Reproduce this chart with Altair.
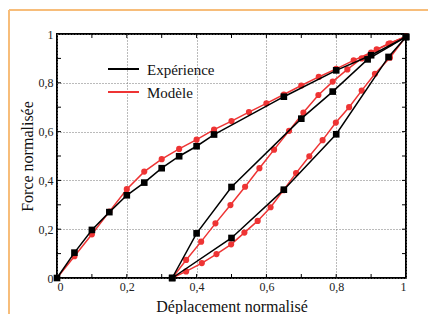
import altair as alt
import pandas as pd

# ---- data ----
exp_load_x = [0, 0.05, 0.10, 0.15, 0.20, 0.25, 0.30, 0.35, 0.40, 0.45, 0.65, 0.80, 0.90, 1.00]
exp_load_y = [0, 0.104, 0.197, 0.270, 0.339, 0.391, 0.450, 0.499, 0.540, 0.588, 0.743, 0.851, 0.913, 0.988]
exp_up_x = [0.33, 0.40, 0.50, 0.70, 0.79, 0.89, 1.00]
exp_up_y = [0, 0.183, 0.373, 0.653, 0.764, 0.896, 0.988]
exp_low_x = [0.33, 0.50, 0.65, 0.80, 0.95, 1.00]
exp_low_y = [0, 0.164, 0.362, 0.589, 0.906, 0.988]

mod_load_x = [0, 0.05, 0.10, 0.15, 0.20, 0.25, 0.30, 0.35, 0.40, 0.45, 0.50,
              0.55, 0.60, 0.65, 0.70, 0.75, 0.80, 0.85, 0.90, 0.95, 1.00]
mod_load_y = [0, 0.089, 0.179, 0.272, 0.364, 0.436, 0.487, 0.529, 0.567, 0.608, 0.643,
              0.680, 0.716, 0.752, 0.789, 0.824, 0.857, 0.892, 0.924, 0.960, 0.990]
mod_up_x = [0.33, 0.370, 0.413, 0.454, 0.497, 0.539, 0.580, 0.622, 0.665, 0.706, 0.749,
            0.790, 0.832, 0.873, 0.916, 0.955, 1.00]
mod_up_y = [0, 0.074, 0.149, 0.224, 0.299, 0.374, 0.450, 0.526, 0.603, 0.678, 0.750,
            0.805, 0.855, 0.900, 0.937, 0.962, 0.990]
mod_low_x = [0.33, 0.370, 0.415, 0.457, 0.499, 0.537, 0.575, 0.612, 0.649, 0.685, 0.723,
             0.761, 0.799, 0.837, 0.873, 0.911, 0.954, 1.00]
mod_low_y = [0, 0.027, 0.061, 0.098, 0.138, 0.186, 0.234, 0.290, 0.360, 0.430, 0.499,
             0.565, 0.637, 0.700, 0.768, 0.837, 0.903, 0.990]

legend_labels = ["Expérience", "Modèle"]
series_colors = ["#000000", "#ee3434"]
major_ticks = [0, 0.2, 0.4, 0.6, 0.8, 1]
minor_ticks = [0.1, 0.2, 0.3, 0.4, 0.5, 0.6, 0.7, 0.8, 0.9]
x_title = "Déplacement normalisé"
y_title = "Force normalisée"

# ---- build tables ----
rows = []
def add(series, curve, xs, ys):
    for i, (xv, yv) in enumerate(zip(xs, ys)):
        rows.append({"series": series, "curve": curve, "order": i, "x": xv, "y": yv})

add("Modèle", "m_load", mod_load_x, mod_load_y)
add("Modèle", "m_up", mod_up_x, mod_up_y)
add("Modèle", "m_low", mod_low_x, mod_low_y)
add("Expérience", "e_load", exp_load_x, exp_load_y)
add("Expérience", "e_up", exp_up_x, exp_up_y)
add("Expérience", "e_low", exp_low_x, exp_low_y)
df = pd.DataFrame(rows)
mod_df = df[df.series == "Modèle"]
exp_df = df[df.series == "Expérience"]

W, H = 349, 244
FONT = "'Liberation Serif', 'Times New Roman', Times, serif"
RED = series_colors[1]
BLACK = series_colors[0]
ORANGE = "#f7bd7a"

xs = alt.Scale(domain=[0, 1], nice=False, zero=False)
ys = alt.Scale(domain=[0, 1], nice=False, zero=False)
lab = "replace(format(datum.value, '~g'), '.', ',')"

x_axis = alt.Axis(values=major_ticks, title=x_title, grid=True, ticks=False, domain=False,
                  labelExpr=lab, labelPadding=3, titlePadding=6,
                  labelFont=FONT, titleFont=FONT)
y_axis = alt.Axis(values=major_ticks, title=y_title, grid=True, ticks=False, domain=False,
                  labelExpr=lab, labelPadding=4, titlePadding=3,
                  labelFont=FONT, titleFont=FONT)

X = alt.X("x:Q", scale=xs, axis=x_axis)
Y = alt.Y("y:Q", scale=ys, axis=y_axis)

lines_m = alt.Chart(mod_df).mark_line(color=RED, strokeWidth=1.5).encode(
    x=X, y=Y, detail="curve:N", order="order:Q")
pts_m = alt.Chart(mod_df).mark_point(shape="circle", filled=True, size=38, color=RED, opacity=1).encode(
    x="x:Q", y="y:Q")
lines_e = alt.Chart(exp_df).mark_line(color=BLACK, strokeWidth=1.5).encode(
    x="x:Q", y="y:Q", detail="curve:N", order="order:Q")
pts_e = alt.Chart(exp_df).mark_point(shape="square", filled=True, size=44, color=BLACK, opacity=1).encode(
    x="x:Q", y="y:Q")

# inward ticks on all four sides
tx = pd.DataFrame({"x": minor_ticks})
ty = pd.DataFrame({"y": minor_ticks})
TL = 4
t_bottom = alt.Chart(tx).mark_rule(color="black", strokeWidth=1).encode(
    x="x:Q", y=alt.value(H), y2=alt.value(H - TL))
t_top = alt.Chart(tx).mark_rule(color="black", strokeWidth=1).encode(
    x="x:Q", y=alt.value(0), y2=alt.value(TL))
t_left = alt.Chart(ty).mark_rule(color="black", strokeWidth=1).encode(
    y="y:Q", x=alt.value(0), x2=alt.value(TL))
t_right = alt.Chart(ty).mark_rule(color="black", strokeWidth=1).encode(
    y="y:Q", x=alt.value(W), x2=alt.value(W - TL))

# legend drawn by hand (line samples only, as in the reference)
legend_layers = []
for i, (name, col) in enumerate(zip(legend_labels, series_colors)):
    ld = pd.DataFrame({"label": [name]})
    yy = 35 + 23 * i
    legend_layers.append(alt.Chart(ld).mark_rule(color=col, strokeWidth=2).encode(
        x=alt.value(51), x2=alt.value(82), y=alt.value(yy)))
    legend_layers.append(alt.Chart(ld).mark_text(align="left", baseline="middle", font=FONT,
                                                 fontSize=15, color="#111").encode(
        x=alt.value(90), y=alt.value(yy + 1), text="label:N"))

# orange frame around the figure (top and left edges visible)
fd = pd.DataFrame({"k": [0]})
frame_top = alt.Chart(fd).mark_rule(color=ORANGE, strokeWidth=2).encode(
    x=alt.value(-48), x2=alt.value(W + 30), y=alt.value(-24))
frame_left = alt.Chart(fd).mark_rule(color=ORANGE, strokeWidth=2).encode(
    x=alt.value(-48), y=alt.value(-24), y2=alt.value(H + 60))

chart = alt.layer(
    lines_m, t_bottom, t_top, t_left, t_right, pts_m, lines_e, pts_e,
    *legend_layers, frame_top, frame_left
).properties(
    width=W, height=H,
    autosize=alt.AutoSizeParams(type="none"),
    padding={"left": 49, "top": 26, "right": 22, "bottom": 36},
).configure(
    font=FONT
).configure_view(
    stroke="black", strokeWidth=2
).configure_text(
    font=FONT
).configure_axis(
    labelFont=FONT, titleFont=FONT, labelFontSize=12, titleFontSize=16,
    titleFontWeight="normal", labelColor="#222", titleColor="#111",
    gridColor="#777", gridDash=[1, 2], gridWidth=1, gridOpacity=1
)

chart.save("out.html", embed_options={"renderer": "svg", "actions": False})
